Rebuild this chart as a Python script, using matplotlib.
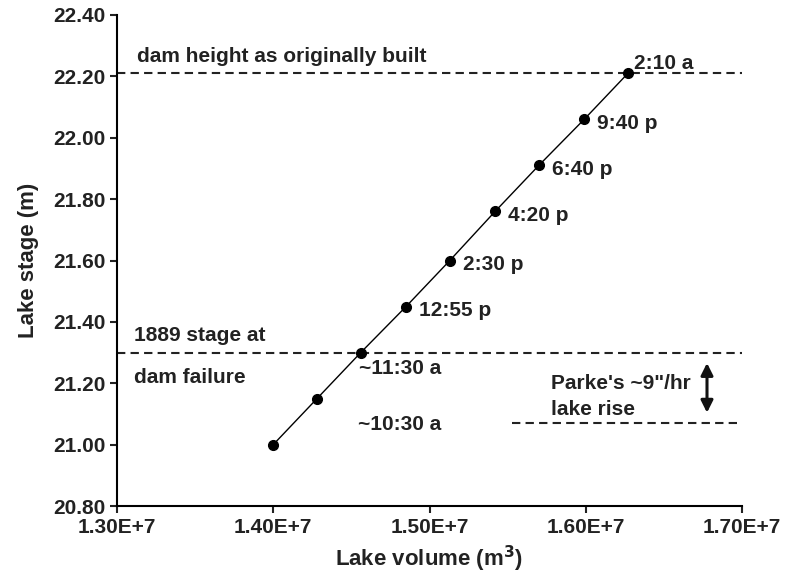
import matplotlib
matplotlib.use('Agg')
import matplotlib.pyplot as plt
from matplotlib.ticker import FuncFormatter, MultipleLocator

plt.rcParams['font.family'] = ['Liberation Sans', 'DejaVu Sans']
plt.rcParams['font.weight'] = 'bold'

# Lake volume (m3) and stage (m) through the day
volume = [1.400e7, 1.428e7, 1.456e7, 1.485e7, 1.513e7, 1.542e7, 1.570e7, 1.599e7, 1.627e7]
stage = [21.00, 21.15, 21.30, 21.45, 21.60, 21.76, 21.91, 22.06, 22.21]
times = [None, None, '~11:30 a', '12:55 p', '2:30 p', '4:20 p', '6:40 p', '9:40 p', '2:10 a']

dam_height = 22.21
failure_stage = 21.30
parke_low = 21.07
parke_start = 1.553e7
arrow_x = 1.6776e7

fig = plt.figure(figsize=(7.85, 5.77), dpi=100)
ax = fig.add_axes([117 / 785, 1 - 506 / 577, 625 / 785, 491 / 577])

# reference levels
dash = (0, (4, 2.5))
ax.plot([1.3e7, 1.7e7], [dam_height, dam_height], color='#222222', lw=1.5, linestyle=dash)
ax.plot([1.3e7, 1.7e7], [failure_stage, failure_stage], color='#222222', lw=1.5, linestyle=dash)
ax.plot([parke_start, 1.7e7], [parke_low, parke_low], color='#222222', lw=1.5, linestyle=dash)

# stage-volume curve
ax.plot(volume, stage, color='black', lw=1.0, marker='o', markersize=7, zorder=3)

fs = 15
for v, s, t in zip(volume, stage, times):
    if t is None:
        continue
    if t == '2:10 a':
        off = (4.5, 7)
    elif t == '~11:30 a':
        off = (-1.5, -11.5)
    else:
        off = (9.5, -3)
    ax.annotate(t, (v, s), xytext=off, textcoords='offset points',
                fontsize=fs, fontweight='bold', ha='left', va='center', color='#222222')

ax.text(1.3128e7, 22.266, 'dam height as originally built', fontsize=fs, fontweight='bold', va='center', color='#222222')
ax.text(1.3109e7, 21.357, '1889 stage at', fontsize=fs, fontweight='bold', va='center', color='#222222')
ax.text(1.3109e7, 21.22, 'dam failure', fontsize=fs, fontweight='bold', va='center', color='#222222')
ax.text(1.4542e7, 21.067, '~10:30 a', fontsize=fs, fontweight='bold', va='center', color='#222222')
ax.text(1.5778e7, 21.198, 'Parke\'s ~9"/hr', fontsize=fs, fontweight='bold', va='center', color='#222222')
ax.text(1.5778e7, 21.116, 'lake rise', fontsize=fs, fontweight='bold', va='center', color='#222222')

ax.annotate('', xy=(arrow_x, 21.095), xytext=(arrow_x, 21.275),
            arrowprops=dict(arrowstyle='<|-|>', color='#111111', lw=2.2, mutation_scale=18))

ax.set_xlim(1.3e7, 1.7e7)
ax.set_ylim(20.8, 22.4)
ax.xaxis.set_major_locator(MultipleLocator(1e6))
ax.yaxis.set_major_locator(MultipleLocator(0.2))
ax.xaxis.set_major_formatter(FuncFormatter(lambda v, p: f'{v / 1e7:.2f}E+7'))
ax.yaxis.set_major_formatter(FuncFormatter(lambda v, p: f'{v:.2f}'))

for side in ['top', 'right']:
    ax.spines[side].set_visible(False)
for side in ['left', 'bottom']:
    ax.spines[side].set_linewidth(1.5)
ax.tick_params(direction='out', length=5, width=1.5, labelsize=15, colors='#222222')
for lab in ax.get_xticklabels() + ax.get_yticklabels():
    lab.set_fontweight('bold')

ax.set_xlabel('Lake volume (m$^\\mathbf{3}$)', fontsize=16, fontweight='bold', color='#222222', labelpad=5)
ax.set_ylabel('Lake stage (m)', fontsize=16, fontweight='bold', color='#222222', labelpad=10)

fig.savefig('out.png', dpi=100)
